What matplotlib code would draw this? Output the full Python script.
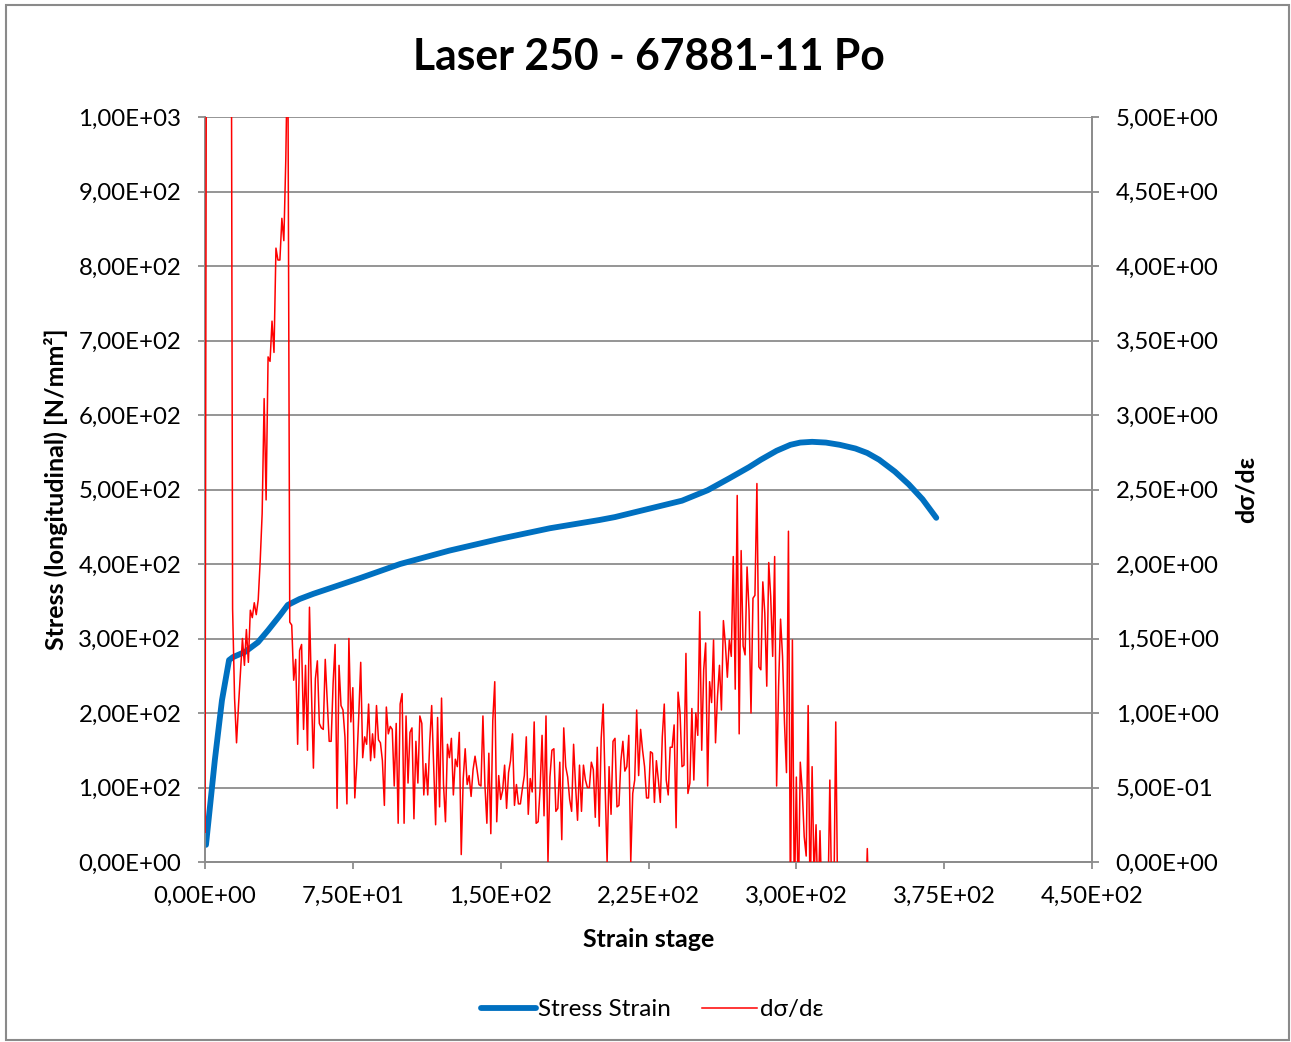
''' Laser 250 stress strain curve with derivative '''
import numpy as np
import matplotlib
matplotlib.use('Agg')
import matplotlib.pyplot as plt
from matplotlib.ticker import FuncFormatter, MultipleLocator
from matplotlib.patches import Rectangle

plt.rcParams['font.family'] = ['Lato', 'DejaVu Sans']

# stress strain curve (strain stage, N/mm2)
stage = [0.5, 5, 8.6, 12.2, 14.2, 20.3, 26.9, 32, 38, 42, 48, 55, 64, 78.6, 99, 124,
         150, 175, 200, 208, 225, 242, 255, 266, 276, 282, 290, 297, 302, 308, 315,
         322, 330, 336, 342, 350, 357, 364, 371]
stress = [23, 137, 217, 271, 275, 282, 295, 311, 331, 345, 353, 360, 368, 381, 400, 418,
          434, 448, 459, 463, 474, 485, 499, 515, 530, 540, 552, 560, 563, 564, 563,
          560, 555, 549, 540, 524, 507, 487, 462]

# d(sigma)/d(eps), one value per strain stage starting at stage 0
drv_rise = [0.2] + [8.0] * 13 + [
    1.7, 1.1, 0.80, 1.05, 1.28, 1.50, 1.32, 1.56, 1.34, 1.69, 1.64, 1.74, 1.66, 1.76,
    2.02, 2.34, 3.11, 2.43, 3.39, 3.36, 3.63, 3.42, 4.12, 4.04, 4.04, 4.32, 4.17, 4.72, 5.6]
drv_a = [1.61, 1.59, 1.22, 1.36, 0.79, 1.42, 1.46, 0.89, 1.32, 0.75,
         1.71, 1.15, 0.63, 1.23, 1.35, 0.93, 0.90, 0.89, 1.36, 1.09,
         0.81, 0.81, 1.20, 1.46, 0.36, 1.32, 1.05, 1.02, 0.84, 0.39,
         1.50, 0.94, 1.17, 0.43, 0.66, 0.98, 1.34, 0.70, 0.84, 0.79,
         1.06, 0.68, 0.86, 0.70, 1.05, 0.82, 0.80, 0.68, 0.38, 1.04,
         0.86, 0.91, 0.89, 0.51, 0.93, 0.26]
drv_b = [1.06, 1.13, 0.26, 0.98, 0.53, 0.87, 0.90, 0.29, 0.81, 0.53,
         0.98, 0.93, 0.45, 0.66, 0.45, 0.80, 1.05, 0.66, 0.25, 0.97,
         0.37, 1.10, 0.52, 0.27, 0.79, 0.70, 0.83, 0.45, 0.69, 0.64,
         0.87, 0.05, 0.56, 0.76, 0.52, 0.58, 0.44, 0.62, 0.71, 0.62,
         0.52, 0.51, 0.98, 0.52, 0.26, 0.73, 0.19, 0.95, 1.21, 0.27,
         0.58, 0.42, 0.48, 0.65, 0.36, 0.60]
drv_c = [0.68, 0.86, 0.38, 0.52, 0.39, 0.39, 0.49, 0.58, 0.84, 0.32,
         0.56, 0.47, 0.94, 0.26, 0.27, 0.49, 0.85, 0.31, 0.98, 0.0,
         0.57, 0.75, 0.76, 0.34, 0.36, 0.67, 0.15, 0.90, 0.64, 0.57,
         0.42, 0.34, 0.79, 0.51, 0.28, 0.65, 0.34, 0.65, 0.55, 0.50,
         0.50, 0.67, 0.62, 0.30, 0.77, 0.24, 0.83, 1.06, 0.51, 0.0,
         0.64, 0.32, 0.81, 0.83, 0.37, 0.38]
drv_d = [0.68, 0.81, 0.61, 0.64, 0.85, 0.0, 0.46, 0.55, 1.02, 0.58,
         0.89, 0.75, 0.64, 0.43, 0.43, 0.74, 0.73, 0.40, 0.68, 0.55,
         0.40, 0.84, 1.06, 0.55, 0.45, 0.77, 0.77, 0.92, 0.23, 1.14,
         1.00, 0.64, 0.65, 1.40, 0.46, 0.53, 1.03, 0.55, 1.00, 0.85,
         1.68, 0.75, 1.29, 1.47, 0.51, 1.21, 1.07, 1.49, 0.80, 1.11,
         1.32, 1.02, 1.62, 1.46, 1.24, 1.49]
drv_e = [1.38, 2.05, 1.16, 2.46, 0.86, 2.09, 1.45, 1.39, 1.98, 1.69,
         1.00, 1.77, 1.79, 2.54, 1.31, 1.29, 1.88, 1.67, 1.18, 2.01,
         1.78, 1.38, 2.05, 0.51, 1.18, 1.63, 1.38, 0.93, 0.60, 2.22,
         -0.3, 1.49, -0.3, 0.57, -0.3, 0.67, 0.48, 0.17, 0.04, 1.05,
         -0.3, 0.64, -0.1, 0.25, -0.3, 0.21, -0.3]
drv_tail = [-0.3, -0.3, -0.3, 0.55, -0.3, -0.3, 0.94, -0.3] + [-0.4] * 14 + [0.09, -0.4]

drv = drv_rise + drv_a + drv_b + drv_c + drv_d + drv_e + drv_tail
drv_stage = np.arange(len(drv))

GRID = '#8c8c8c'

def excel_sci(v, pos):
    return ('%.2E' % v).replace('.', ',')

fig = plt.figure(figsize=(12.91, 10.42), dpi=100)
ax = fig.add_axes([205/1291., 1-862/1042., 887/1291., 745/1042.])
ax2 = ax.twinx()

ax.plot(stage, stress, color='#0070C0', linewidth=4.2, solid_capstyle='round', zorder=3)
ax2.plot(drv_stage, drv, color='#FF0000', linewidth=1.1, zorder=3)

ax.set_xlim(0, 450)
ax.set_ylim(0, 1000)
ax2.set_ylim(0, 5)
ax.xaxis.set_major_locator(MultipleLocator(75))
ax.yaxis.set_major_locator(MultipleLocator(100))
ax2.yaxis.set_major_locator(MultipleLocator(0.5))
for a in (ax, ax2):
    a.xaxis.set_major_formatter(FuncFormatter(excel_sci))
    a.yaxis.set_major_formatter(FuncFormatter(excel_sci))
    a.tick_params(labelsize=17.3, length=5, width=1.3, color=GRID, pad=12)
    a.spines['top'].set_visible(False)
    for s in ('left', 'right', 'bottom'):
        a.spines[s].set_color(GRID)
        a.spines[s].set_linewidth(1.3)
ax.yaxis.grid(True, color=GRID, linewidth=1.3)
ax.set_axisbelow(True)

ax.set_xlabel('Strain stage', fontsize=18, fontweight='bold')
ax.xaxis.set_label_coords(0.5, -0.088)
ax.set_ylabel('Stress (longitudinal) [N/mm²]', fontsize=18, fontweight='bold')
ax.yaxis.set_label_coords(-0.155, 0.5)
ax2.set_ylabel('dσ/dε', fontsize=18, fontweight='bold')
ax2.yaxis.set_label_coords(1.161, 0.5)

fig.text(0.503, 0.945, 'Laser 250 - 67881-11 Po', fontsize=30.7, fontweight='bold',
         ha='center', va='center')

h1, = ax.plot([], [], color='#0070C0', linewidth=4.2, solid_capstyle='round')
h2, = ax.plot([], [], color='#FF0000', linewidth=1.1)
fig.legend([h1, h2], ['Stress Strain', 'dσ/dε'], loc='center', bbox_to_anchor=(0.505, 0.031),
           ncol=2, frameon=False, fontsize=17.5, handlelength=2.25, handletextpad=0.1,
           columnspacing=1.3)

fig.patches.append(Rectangle((6/1291., 2/1042.), 1283/1291., 1035/1042., transform=fig.transFigure,
                             fill=False, edgecolor='#8a8a8a', linewidth=1.5))

fig.savefig('out.png', dpi=100)
